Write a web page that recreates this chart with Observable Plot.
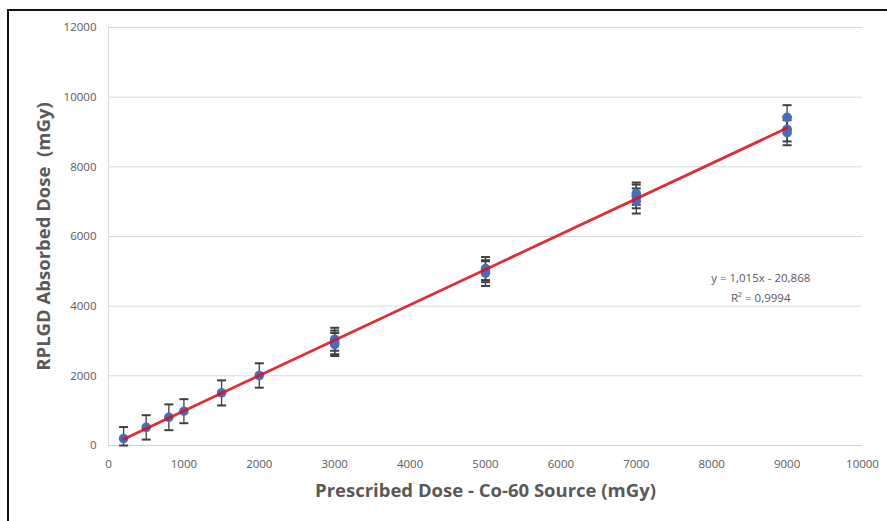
<!DOCTYPE html>
<html>
<head>
<meta charset="utf-8">
<script src="https://cdn.jsdelivr.net/npm/d3@7"></script>
<script src="https://cdn.jsdelivr.net/npm/@observablehq/plot@0.6"></script>
<style>
  html, body { margin: 0; padding: 0; background: #fff; }
  #wrap { position: relative; width: 887px; height: 521px; overflow: hidden; }
  #frameTop { position: absolute; left: 8px; top: 9px; width: 879px; height: 2px; background: #111; }
  #frameLeft { position: absolute; left: 7px; top: 9px; width: 2px; height: 512px; background: #111; }
  #chart { position: absolute; left: 0; top: 0; }
</style>
</head>
<body>
<div id="wrap">
  <div id="chart"></div>
  <div id="frameTop"></div>
  <div id="frameLeft"></div>
</div>
<script>
// Prescribed dose (mGy) of each measurement
const dose = [200, 500, 800, 1000, 1500, 2000,
              3000, 3000, 3000,
              5000, 5000, 5000,
              7000, 7000, 7000,
              9000, 9000, 9000];
// RPLGD absorbed dose (mGy)
const measured = [200, 520, 810, 985, 1510, 2010,
                  3050, 2960, 2900,
                  5080, 4990, 4950,
                  7230, 7150, 7020,
                  9420, 9080, 8980];
// Error (± mGy)
const errors = [330, 350, 370, 345, 360, 350,
                330, 340, 330,
                330, 300, 370,
                320, 340, 360,
                350, 350, 360];

const slope = 1.015;
const intercept = -20.868;
const fitRange = [200, 9000];
const equationText = ["y = 1,015x - 20,868", "R² = 0,9994"];
const equationPos = {x: 8650, y: 4580};

const xTicks = [0, 1000, 2000, 3000, 4000, 5000, 6000, 7000, 8000, 9000, 10000];
const yTicks = [0, 2000, 4000, 6000, 8000, 10000, 12000];

// error bars are not drawn below the axis (as in the original chart)
const points = dose.map((d, i) => ({x: d, y: measured[i], lo: Math.max(0, measured[i] - errors[i]), hi: measured[i] + errors[i]}));
const fit = fitRange.map(x => ({x, y: slope * x + intercept}));

// horizontal cap symbol for error bars
const capSymbol = {
  draw(context, size) {
    const w = 4.5;
    context.moveTo(-w, 0);
    context.lineTo(w, 0);
  }
};

const fontFam = "'Open Sans', 'Liberation Sans', sans-serif";

const chart = Plot.plot({
  width: 887,
  height: 521,
  marginLeft: 108,
  marginRight: 25,
  marginTop: 27,
  marginBottom: 76,
  style: {fontFamily: fontFam, fontSize: "12px", color: "#595959", background: "transparent"},
  x: {type: "linear", domain: [0, 10000]},
  y: {type: "linear", domain: [0, 12000]},
  marks: [
    Plot.gridY(yTicks.filter(d => d > 0), {stroke: "#d9d9d9", strokeOpacity: 1, strokeWidth: 1}),
    Plot.ruleY([0], {stroke: "#cfcfcf", strokeWidth: 1}),
    Plot.ruleX([0], {stroke: "#d9d9d9", strokeWidth: 1}),
    Plot.axisX(xTicks, {tickSize: 0, tickPadding: 14, tickFormat: d => String(d), label: null, fill: "#595959", fontSize: 11.5}),
    Plot.axisY(yTicks, {tickSize: 0, tickPadding: 12, tickFormat: d => String(d), label: null, fill: "#595959", fontSize: 11.5}),
    Plot.text(["Prescribed Dose - Co-60 Source (mGy)"], {frameAnchor: "bottom", dy: 51, text: d => d, fontSize: 18.5, fontWeight: "bold", fill: "#595959"}),
    Plot.text(["RPLGD Absorbed Dose  (mGy)"], {frameAnchor: "left", dx: -64, rotate: -90, textAnchor: "middle", text: d => d, fontSize: 18.5, fontWeight: "bold", fill: "#595959"}),
    Plot.ruleX(points, {x: "x", y1: "lo", y2: "hi", stroke: "#3f3f3f", strokeWidth: 1.3}),
    Plot.dot(points, {x: "x", y: "lo", symbol: capSymbol, r: 4, fill: "none", stroke: "#3f3f3f", strokeWidth: 2}),
    Plot.dot(points, {x: "x", y: "hi", symbol: capSymbol, r: 4, fill: "none", stroke: "#3f3f3f", strokeWidth: 2}),
    Plot.dot(points, {x: "x", y: "y", r: 4.8, fill: "#4a6cb8", stroke: "none"}),
    Plot.line(fit, {x: "x", y: "y", stroke: "#d8121b", strokeWidth: 2.8, strokeOpacity: 0.88}),
    Plot.text([equationText.join("\n")], {x: equationPos.x, y: equationPos.y, text: d => d, fontSize: 11.5, fill: "#595959", lineHeight: 1.74, textAnchor: "middle"})
  ]
});
document.getElementById("chart").appendChild(chart);
</script>
</body>
</html>
